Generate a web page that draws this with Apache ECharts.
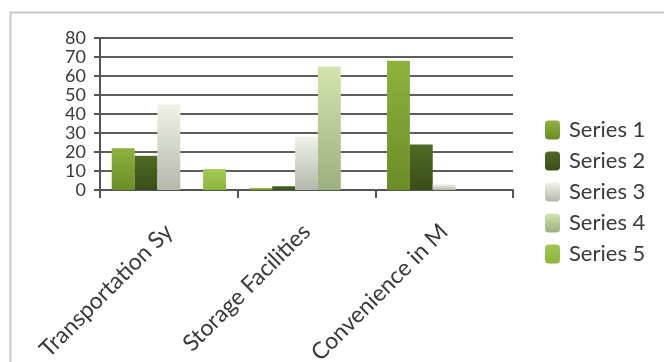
<!DOCTYPE html>
<html><head><meta charset="utf-8">
<script src="https://cdn.jsdelivr.net/npm/echarts@6/dist/echarts.min.js"></script>
<style>html,body{margin:0;padding:0;background:#fff}#c{width:664px;height:362px}</style>
</head><body><div id="c"></div>
<script>
const categories = ['Transportation Sy', 'Storage Facilities', 'Convenience in M'];
const seriesNames = ['Series 1', 'Series 2', 'Series 3', 'Series 4', 'Series 5'];
const series1 = [22, 1, 68];
const series2 = [18, 2, 24];
const series3 = [45, 28, 3];
const series4 = [0, 65, 0];
const series5 = [11, 0, 0];
const yTicks = [0, 10, 20, 30, 40, 50, 60, 70, 80];

const values = [series1, series2, series3, series4, series5];
const grads = [
  ['#8fb23e', '#6a8c26'],
  ['#4f6a24', '#3a4e17'],
  ['#f0f2e8', '#b4b8aa'],
  ['#d3e4ae', '#9cb07e'],
  ['#a3c955', '#8ab53a']
];
const font = 'Lato, "Open Sans", sans-serif';
const chart = echarts.init(document.getElementById('c'));
chart.setOption({
  animation: false,
  backgroundColor: '#fff',
  graphic: [{type: 'rect', shape: {x: 10.5, y: 12.5, width: 700, height: 400},
    style: {fill: 'none', stroke: '#c8c8c8', lineWidth: 2}, z: -1}],
  grid: {left: 100, right: 151, top: 38, bottom: 172, containLabel: false, outerBoundsMode: 'none'},
  legend: {
    orient: 'vertical', left: 540, top: 114, itemGap: 9, itemWidth: 15, itemHeight: 19,
    textStyle: {fontFamily: font, fontSize: 22, color: '#3a3a3a', lineHeight: 19, padding: [0, 0, 0, 4]},
    data: seriesNames
  },
  xAxis: {
    type: 'category', data: categories,
    axisLine: {lineStyle: {color: '#555', width: 2}},
    axisTick: {show: true, length: 8, lineStyle: {color: '#555', width: 2}},
    axisLabel: {rotate: 45, fontFamily: font, fontSize: 23, color: '#3a3a3a', margin: 38}
  },
  yAxis: {
    type: 'value', min: 0, max: 80, interval: 10,
    axisLine: {show: true, lineStyle: {color: '#555', width: 2}},
    axisTick: {show: true, length: 6, lineStyle: {color: '#555', width: 2}},
    splitLine: {lineStyle: {color: '#5e5e5e', width: 2}},
    axisLabel: {fontFamily: font, fontSize: 18, color: '#3a3a3a', margin: 14,
      showMinLabel: true, showMaxLabel: true,
      formatter: v => yTicks.includes(v) ? String(v) : ''}
  },
  series: seriesNames.map((n, i) => ({
    name: n, type: 'bar', data: values[i], barGap: '0%', barCategoryGap: '17%',
    itemStyle: {color: {type: 'linear', x: 0, y: 0, x2: 0, y2: 1,
      colorStops: [{offset: 0, color: grads[i][0]}, {offset: 1, color: grads[i][1]}]}}
  }))
});
</script></body></html>
